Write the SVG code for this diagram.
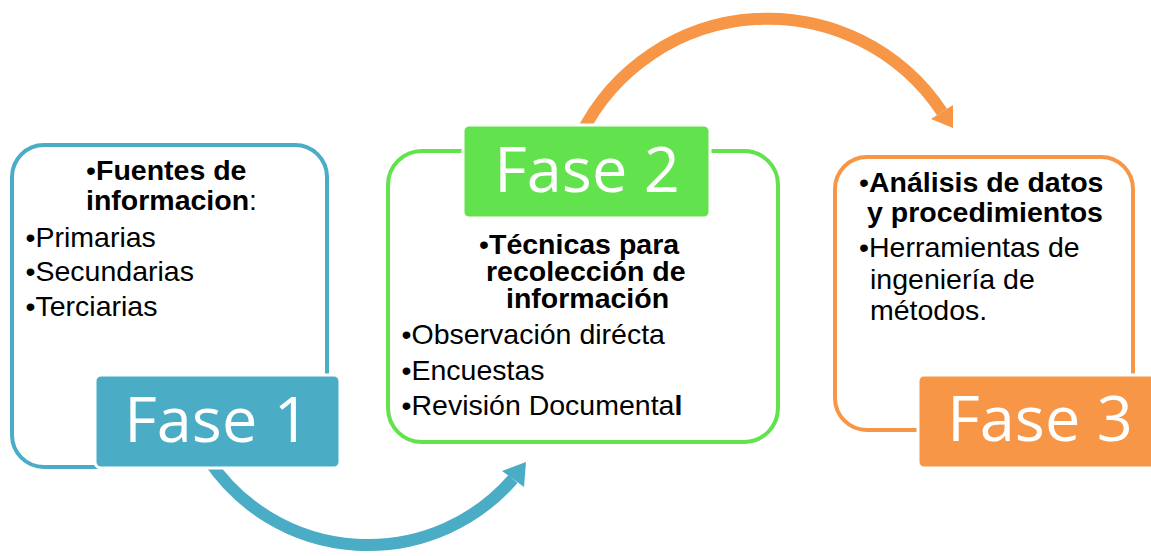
<svg xmlns="http://www.w3.org/2000/svg" width="1151" height="556" viewBox="0 0 1151 556">
<style>
.t{font-family:"Liberation Sans",Arial,sans-serif;font-size:28.5px;fill:#000}
.b{font-weight:bold}
.lab{font-family:"Open Sans",sans-serif;font-size:63px;fill:#fff;text-anchor:middle}
.arc{fill:none;stroke-width:12}
</style>
<rect width="1151" height="556" fill="#fff"/>
<g id="connectors">
<path class="arc" stroke="#4BACC6" d="M 208.6 460 A 192 192 0 0 0 513 479"/>
<polygon fill="#4BACC6" points="502,471 526,462 524,487"/>
<path class="arc" stroke="#F79646" d="M 580.6 135 A 209 209 0 0 1 942 112"/>
<polygon fill="#F79646" points="931,119 953,128 953,105"/>
</g>
<g id="fase1">
<rect x="12" y="145" width="315" height="322" rx="32" fill="#fff" stroke="#4BACC6" stroke-width="4"/>
<text class="t" x="86" y="180">•<tspan class="b">Fuentes de</tspan></text>
<text class="t" x="86" y="210"><tspan class="b">informacion</tspan>:</text>
<text class="t" x="25.5" y="247">•Primarias</text>
<text class="t" x="25.5" y="281">•Secundarias</text>
<text class="t" x="25.5" y="316">•Terciarias</text>
<rect x="95" y="375" width="245" height="93" rx="6" fill="#4BACC6" stroke="#fff" stroke-width="3"/>
<text class="lab" x="217" y="442">Fase 1</text>
</g>
<g id="fase2">
<rect x="388" y="151" width="390" height="291" rx="34" fill="#fff" stroke="#62E24C" stroke-width="4"/>
<rect x="463" y="125" width="247" height="93" rx="6" fill="#62E24C" stroke="#fff" stroke-width="3"/>
<text class="lab" x="587" y="192">Fase 2</text>
<text class="t" x="479" y="254">•<tspan class="b">Técnicas para</tspan></text>
<text class="t b" x="486" y="281">recolección de</text>
<text class="t b" x="506" y="308">información</text>
<text class="t" x="401.5" y="344">•Observación dirécta</text>
<text class="t" x="401.5" y="380">•Encuestas</text>
<text class="t" x="401.5" y="415">•Revisión Documenta<tspan class="b">l</tspan></text>
</g>
<g id="fase3">
<rect x="835" y="157" width="298" height="273" rx="32" fill="#fff" stroke="#F79646" stroke-width="4"/>
<text class="t" x="859" y="192">•<tspan class="b">Análisis de datos</tspan></text>
<text class="t b" x="867" y="222">y procedimientos</text>
<text class="t" x="859" y="257">•Herramientas de</text>
<text class="t" x="870" y="289">ingeniería de</text>
<text class="t" x="870" y="320">métodos.</text>
<rect x="918" y="375" width="245" height="93" rx="6" fill="#F79646" stroke="#fff" stroke-width="3"/>
<text class="lab" x="1040" y="441">Fase 3</text>
</g>
</svg>
